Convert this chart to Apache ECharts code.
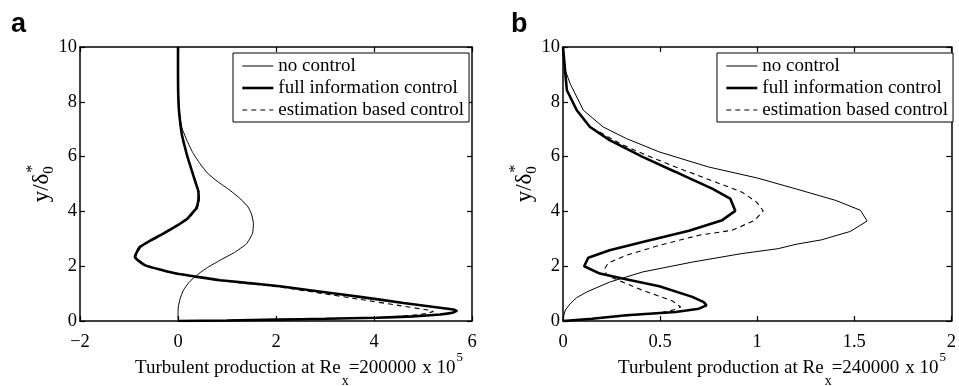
<!DOCTYPE html>
<html>
<head>
<meta charset="utf-8">
<script src="https://cdn.jsdelivr.net/npm/echarts@6/dist/echarts.min.js"></script>
<style>
  html, body { margin: 0; padding: 0; background: #fff; }
  #chart { width: 959px; height: 386px; }
</style>
</head>
<body>
<div id="chart"></div>
<script>
// Series names shared by both panels
const seriesNames = ['no control', 'full information control', 'estimation based control'];

// Panel a: Re_x = 200000, points are [production (x1e5), y/delta0*]
const aNoControl = [
  [0, 0], [0, 0.3], [0.007, 0.51], [0.04, 0.8], [0.11, 1.12], [0.22, 1.4], [0.38, 1.67],
  [0.6, 1.95], [0.86, 2.22], [1.15, 2.5], [1.40, 2.82], [1.52, 3.2], [1.54, 3.55],
  [1.50, 3.9], [1.43, 4.16], [1.28, 4.45], [1.06, 4.77], [0.8, 5.1], [0.6, 5.4],
  [0.45, 5.74], [0.3, 6.15], [0.18, 6.6], [0.075, 7.08], [0.03, 7.6], [0.01, 8.2],
  [0, 8.8], [0, 10]
];
const aFullInfo = [
  [0, 0], [1, 0.02], [2.01, 0.05], [3, 0.08], [4.05, 0.12], [4.8, 0.17], [5.35, 0.24],
  [5.6, 0.3], [5.69, 0.37], [5.62, 0.42], [4.6, 0.66], [3.71, 0.88], [3.0, 1.05],
  [2.08, 1.27], [1.4, 1.39], [0.86, 1.49], [0.4, 1.61], [-0.03, 1.73], [-0.35, 1.87],
  [-0.67, 2.03], [-0.88, 2.34], [-0.78, 2.7], [-0.55, 2.95], [-0.3, 3.19], [-0.1, 3.4],
  [0.04, 3.55], [0.2, 3.75], [0.28, 3.92], [0.37, 4.1], [0.41, 4.34], [0.42, 4.6],
  [0.41, 4.77], [0.35, 5.1], [0.28, 5.5], [0.2, 5.95], [0.14, 6.35], [0.08, 6.8],
  [0.04, 7.32], [0.015, 7.8], [0.003, 8.4], [0, 9], [0, 10]
];
const aEstimation = [
  [0, 0], [1, 0.02], [2.01, 0.05], [3, 0.08], [4.05, 0.12], [4.7, 0.19], [5.05, 0.27],
  [5.21, 0.35], [5.1, 0.4], [4.5, 0.57], [3.71, 0.79], [3.0, 0.99], [2.08, 1.24],
  [1.4, 1.37], [0.86, 1.48], [0.4, 1.6], [-0.03, 1.72], [-0.35, 1.86], [-0.66, 2.03],
  [-0.86, 2.34], [-0.76, 2.7], [-0.53, 2.95], [-0.28, 3.19], [-0.08, 3.4], [0.06, 3.55],
  [0.22, 3.75], [0.3, 3.92], [0.39, 4.1], [0.43, 4.34], [0.44, 4.6], [0.42, 4.77],
  [0.36, 5.1], [0.29, 5.5], [0.2, 5.95], [0.14, 6.35], [0.08, 6.8], [0.04, 7.32],
  [0.015, 7.8], [0.003, 8.4], [0, 9], [0, 10]
];

// Panel b: Re_x = 240000
const bNoControl = [
  [0, 0], [0.002, 0.15], [0.012, 0.4], [0.037, 0.63], [0.07, 0.85], [0.122, 1.06],
  [0.24, 1.42], [0.41, 1.79], [0.666, 2.15], [0.92, 2.46], [1.108, 2.64], [1.2, 2.8],
  [1.33, 2.96], [1.48, 3.27], [1.566, 3.65], [1.532, 4.04], [1.405, 4.4], [1.2, 4.82],
  [1.0, 5.22], [0.75, 5.62], [0.496, 6.17], [0.326, 6.66], [0.207, 7.08], [0.105, 7.69],
  [0.037, 8.66], [0.012, 9.15], [0, 10]
];
const bFullInfo = [
  [0, 0], [0.15, 0.08], [0.326, 0.21], [0.58, 0.33], [0.70, 0.45], [0.739, 0.57],
  [0.725, 0.69], [0.666, 0.88], [0.496, 1.27], [0.3, 1.56], [0.19, 1.73], [0.109, 2.0],
  [0.13, 2.31], [0.24, 2.58], [0.41, 2.88], [0.649, 3.29], [0.82, 3.68], [0.887, 4.02],
  [0.861, 4.47], [0.768, 4.83], [0.675, 5.13], [0.58, 5.44], [0.41, 5.99], [0.24, 6.6],
  [0.139, 7.08], [0.071, 7.69], [0.02, 8.42], [0.012, 9.03], [0.003, 9.76], [0, 10]
];
const bEstimation = [
  [0, 0], [0.15, 0.08], [0.326, 0.19], [0.5, 0.3], [0.58, 0.42], [0.606, 0.51],
  [0.564, 0.73], [0.41, 1.12], [0.283, 1.49], [0.224, 1.67], [0.215, 1.91], [0.233, 2.12],
  [0.326, 2.40], [0.496, 2.76], [0.70, 3.13], [0.87, 3.31], [0.989, 3.68], [1.031, 4.02],
  [0.997, 4.34], [0.92, 4.71], [0.785, 5.07], [0.58, 5.62], [0.43, 6.05], [0.3, 6.45],
  [0.2, 6.85], [0.139, 7.08], [0.071, 7.69], [0.02, 8.42], [0.012, 9.03], [0.003, 9.76], [0, 10]
];

// Axis ranges and tick spacing
const aXRange = { min: -2, max: 6, interval: 2 };
const bXRange = { min: 0, max: 2, interval: 0.5 };
const yRange = { min: 0, max: 10, interval: 2 };

// Axis title pieces
const reynolds = ['200000', '240000'];
const panelLetters = ['a', 'b'];

const SERIF = '"Liberation Serif", "Times New Roman", serif';
const SANS = '"Liberation Sans", Arial, sans-serif';
const grids = [
  { left: 80, top: 47, width: 392, height: 274 },
  { left: 563, top: 47, width: 392, height: 274 }
];

function fmtTick(v) {
  return v < 0 ? '\u2212' + Math.abs(v) : String(v);
}

function xAxisPair(gi, range) {
  const base = {
    gridIndex: gi, type: 'value', min: range.min, max: range.max, interval: range.interval,
    splitLine: { show: false },
    axisLine: { show: true, onZero: false, lineStyle: { color: '#000', width: 1.5 } },
    axisTick: { show: true, inside: true, length: 5, lineStyle: { color: '#000', width: 1.2 } }
  };
  return [
    Object.assign({}, base, {
      position: 'bottom',
      axisLabel: { color: '#000', fontFamily: SERIF, fontSize: 18.5, margin: 12, formatter: fmtTick }
    }),
    Object.assign({}, base, { position: 'top', axisLabel: { show: false } })
  ];
}
function yAxisPair(gi) {
  const base = {
    gridIndex: gi, type: 'value', min: yRange.min, max: yRange.max, interval: yRange.interval,
    splitLine: { show: false },
    axisLine: { show: true, onZero: false, lineStyle: { color: '#000', width: 1.5 } },
    axisTick: { show: true, inside: true, length: 5, lineStyle: { color: '#000', width: 1.2 } }
  };
  return [
    Object.assign({}, base, {
      position: 'left',
      axisLabel: { color: '#000', fontFamily: SERIF, fontSize: 18.5, margin: 3, formatter: fmtTick }
    }),
    Object.assign({}, base, { position: 'right', axisLabel: { show: false } })
  ];
}

const styles = [
  { width: 1, type: 'solid' },
  { width: 2.6, type: 'solid' },
  { width: 1.1, type: [5, 4] }
];

function panelSeries(axisIdx, lists, smooth) {
  return lists.map((d, i) => ({
    name: seriesNames[i],
    type: 'line',
    xAxisIndex: axisIdx,
    yAxisIndex: axisIdx,
    data: d,
    symbol: 'none',
    smooth: smooth,
    lineStyle: { color: '#000', width: styles[i].width, type: styles[i].type },
    itemStyle: { color: '#000' },
    emphasis: { disabled: true },
    z: 2 + i
  }));
}

// Measures text so the axis-title pieces can be chained inline
const measureCtx = document.createElement('canvas').getContext('2d');
function textWidth(str, size) {
  measureCtx.font = size + 'px ' + SERIF;
  return measureCtx.measureText(str).width;
}

function xTitle(gi) {
  const x0 = grids[gi].left + 55;
  const mid = 368;
  const parts = [
    { t: 'Turbulent production at Re', s: 19, dy: 0, gap: 1 },
    { t: 'x', s: 14, dy: 13, gap: 0 },
    { t: '=' + reynolds[gi], s: 19, dy: 0, gap: 6 },
    { t: 'x 10', s: 19, dy: 0, gap: 1 },
    { t: '5', s: 13, dy: -10, gap: 0 }
  ];
  const out = [];
  let x = x0;
  parts.forEach(p => {
    out.push({
      type: 'text', silent: true,
      style: { text: p.t, x: x, y: mid + p.dy, font: p.s + 'px ' + SERIF,
        fill: '#000', verticalAlign: 'middle', align: 'left' }
    });
    x += textWidth(p.t, p.s) + p.gap;
  });
  return out;
}

function yTitle(gi) {
  const cx = grids[gi].left - 38;
  const cy = 183;
  const mainW = textWidth('y/\u03b4', 23);
  const start = -(mainW + 10) / 2;
  return {
    type: 'group', x: cx, y: cy, rotation: Math.PI / 2, silent: true,
    children: [
      { type: 'text', style: { text: 'y/\u03b4', x: start, y: 0, font: '23px ' + SERIF,
          fill: '#000', verticalAlign: 'middle', align: 'left' } },
      { type: 'text', style: { text: '0', x: start + mainW, y: 7, font: '15px ' + SERIF,
          fill: '#000', verticalAlign: 'middle', align: 'left' } },
      { type: 'text', style: { text: '*', x: start + mainW + 1, y: -9, font: '16px ' + SERIF,
          fill: '#000', verticalAlign: 'middle', align: 'left' } }
    ]
  };
}

function legendFor(gi, left) {
  return {
    data: seriesNames,
    orient: 'vertical',
    left: left, top: 53,
    itemWidth: 31, itemHeight: 12, itemGap: 0,
    padding: [2, 5, 1, 8],
    borderColor: '#000', borderWidth: 1, borderRadius: 0,
    backgroundColor: '#fff',
    selectedMode: false,
    itemStyle: { opacity: 0 },
    lineStyle: { width: 'inherit', type: 'inherit', color: 'inherit' },
    textStyle: { color: '#000', fontFamily: SERIF, fontSize: 19, lineHeight: 22 }
  };
}

const chart = echarts.init(document.getElementById('chart'), null, { renderer: 'canvas' });
chart.setOption({
  animation: false,
  backgroundColor: '#fff',
  grid: grids.map(g => Object.assign({ show: false, containLabel: false }, g)),
  xAxis: [].concat(xAxisPair(0, aXRange), xAxisPair(1, bXRange)),
  yAxis: [].concat(yAxisPair(0), yAxisPair(1)),
  legend: [legendFor(0, 233), legendFor(1, 717)],
  series: [].concat(
    panelSeries(0, [aNoControl, aFullInfo, aEstimation], 0.15),
    panelSeries(2, [bNoControl, bFullInfo, bEstimation], false)
  ),
  graphic: [].concat(
    xTitle(0), xTitle(1), [yTitle(0), yTitle(1)],
    panelLetters.map((t, i) => ({
      type: 'text', silent: true,
      style: { text: t, x: i === 0 ? 11 : 511, y: 25, font: 'bold 27px ' + SANS,
        fill: '#000', verticalAlign: 'middle', align: 'left' }
    }))
  )
});
</script>
</body>
</html>
